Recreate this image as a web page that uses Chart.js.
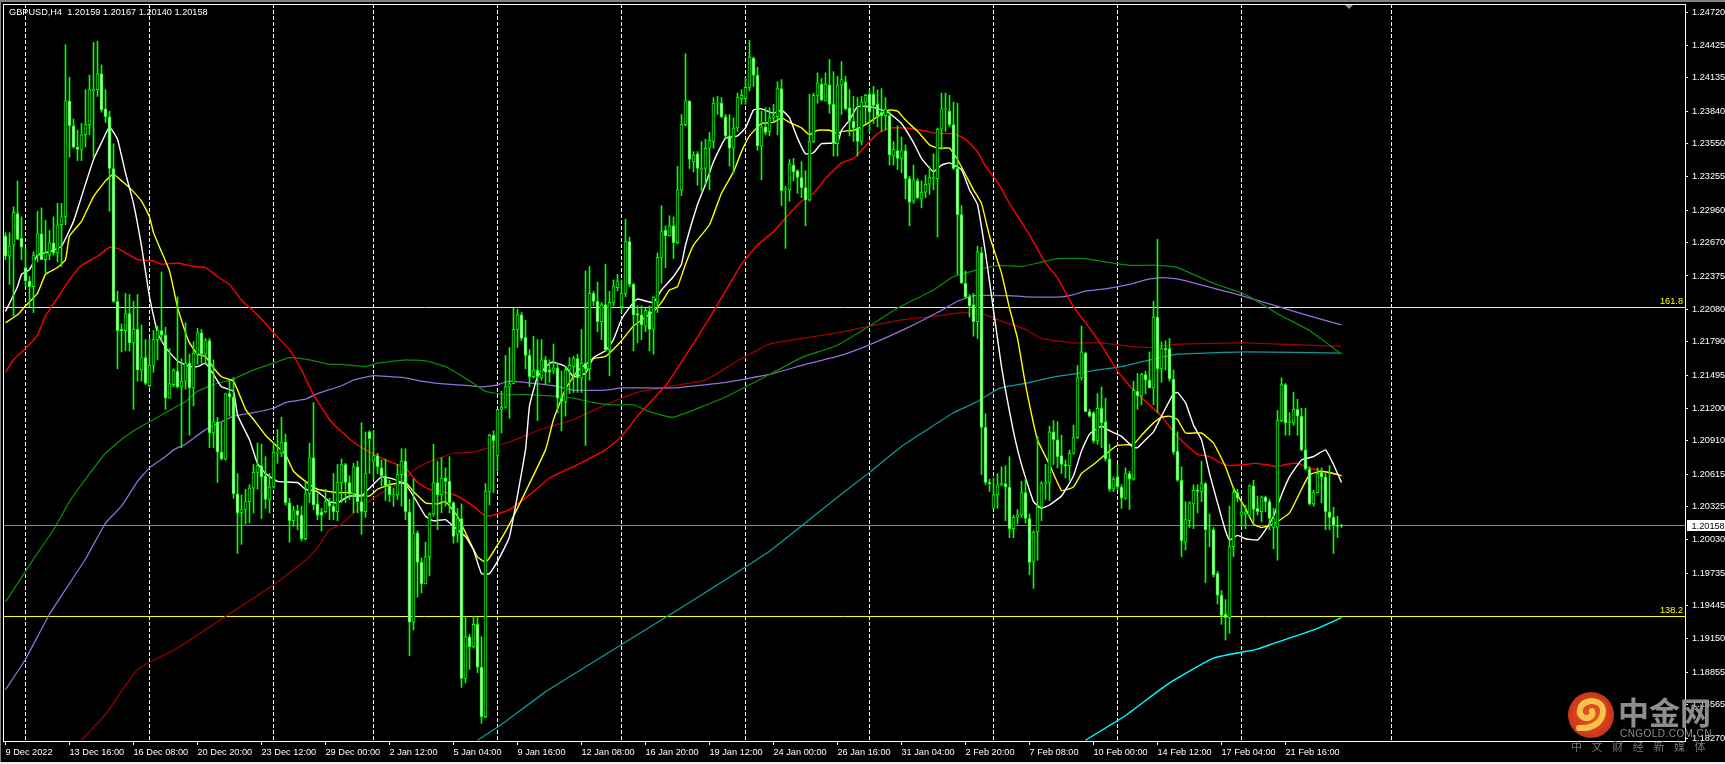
<!DOCTYPE html>
<html>
<head>
<meta charset="utf-8">
<title>GBPUSD,H4</title>
<script src="https://cdn.jsdelivr.net/npm/chart.js@4/dist/chart.umd.min.js"></script>
<style>
html, body { margin: 0; padding: 0; background: #000; overflow: hidden; }
#wrap { position: relative; width: 1725px; height: 764px; }
canvas { display: block; }
#logo { position: absolute; left: 1567px; top: 691px; }
.mark { position: absolute; white-space: nowrap; color: #8e8e8e; font-family: "Liberation Sans", sans-serif; }
#cn1 { left: 1618px; top: 693px; font: bold 31px "Noto Sans CJK SC"; line-height: 36px; }
#cn2 { left: 1620px; top: 728px; font-size: 10px; line-height: 11px; letter-spacing: 0.45px; }
#cn3 { left: 1571px; top: 740px; font: 11px "Noto Sans CJK SC"; line-height: 13px; letter-spacing: 9.6px; color: #777; }
</style>
</head>
<body>
<div id="wrap">
<canvas id="chart" width="1725" height="764"></canvas>
<svg id="logo" width="48" height="48" viewBox="0 0 48 48">
  <defs><radialGradient id="g"><stop offset="0" stop-color="#ee5a22"/><stop offset="1" stop-color="#c9341a"/></radialGradient></defs>
  <circle cx="24" cy="24" r="23" fill="url(#g)"/>
  <path d="M12 37 C24 38 36 32 36 20 C36 12 27 8 20 11 C13 13 10 22 16 26 C21 29 27 25 25 20" fill="none" stroke="#f6c24c" stroke-width="6" stroke-linecap="round"/>
</svg>
<div class="mark" id="cn1">中金网</div>
<div class="mark" id="cn2">CNGOLD.COM.CN</div>
<div class="mark" id="cn3">中文财经新媒体</div>
</div>
<script>
var caption = "GBPUSD,H4  1.20159 1.20167 1.20140 1.20158";

// H4 candles, one entry per bar
var open = [
1.2273,1.2255,1.2265,1.2293,1.2271,1.2245,1.2233,1.2228,1.2256,1.2275,
1.2252,1.2256,1.2267,1.2258,1.2283,1.2290,1.2393,1.2371,1.2352,1.2350,
1.2363,1.2372,1.2402,1.2403,1.2417,1.2386,1.2379,1.2333,1.2215,1.2190,
1.2189,1.2204,1.2178,1.2190,1.2154,1.2165,1.2140,1.2158,1.2181,1.2189,
1.2185,1.2129,1.2141,1.2153,1.2139,1.2144,1.2160,1.2138,1.2168,1.2187,
1.2168,1.2180,1.2098,1.2108,1.2081,1.2075,1.2133,1.2130,1.2044,1.2027,
1.2030,1.2037,1.2049,1.2063,1.2069,1.2060,1.2039,1.2050,1.2080,1.2080,
1.2090,1.2036,1.2020,1.2029,1.2025,1.2004,1.2044,1.2076,1.2035,1.2028,
1.2028,1.2037,1.2033,1.2028,1.2054,1.2070,1.2054,1.2044,1.2068,1.2037,
1.2028,1.2099,1.2073,1.2078,1.2067,1.2060,1.2051,1.2042,1.2043,1.2061,
1.2073,1.2028,1.1930,1.2009,1.1983,1.1964,1.1988,1.2026,1.2054,1.2043,
1.2058,1.2055,1.2036,1.2008,1.2022,1.1880,1.1917,1.1908,1.1928,1.1890,
1.1846,1.2046,1.2096,1.2078,1.2119,1.2121,1.2139,1.2142,1.2190,1.2203,
1.2183,1.2167,1.2148,1.2154,1.2147,1.2163,1.2154,1.2153,1.2156,1.2129,
1.2126,1.2154,1.2157,1.2164,1.2147,1.2160,1.2155,1.2222,1.2215,1.2197,
1.2212,1.2172,1.2214,1.2227,1.2210,1.2222,1.2268,1.2230,1.2204,1.2203,
1.2193,1.2206,1.2190,1.2214,1.2254,1.2278,1.2273,1.2282,1.2267,1.2314,
1.2372,1.2393,1.2339,1.2346,1.2332,1.2333,1.2351,1.2357,1.2391,1.2391,
1.2379,1.2362,1.2351,1.2369,1.2395,1.2395,1.2405,1.2431,1.2416,1.2353,
1.2370,1.2366,1.2378,1.2379,1.2404,1.2314,1.2314,1.2336,1.2331,1.2325,
1.2316,1.2305,1.2357,1.2398,1.2408,1.2393,1.2407,1.2390,1.2355,1.2407,
1.2410,1.2387,1.2375,1.2369,1.2357,1.2392,1.2399,1.2399,1.2390,1.2383,
1.2380,1.2380,1.2344,1.2349,1.2342,1.2349,1.2324,1.2304,1.2322,1.2306,
1.2312,1.2319,1.2324,1.2324,1.2368,1.2385,1.2384,1.2372,1.2333,1.2292,
1.2231,1.2219,1.2212,1.2197,1.2258,1.2103,1.2054,1.2031,1.2043,1.2052,
1.2053,1.2050,1.2013,1.2023,1.2025,1.2045,1.2022,1.1984,1.2010,1.2032,
1.2053,1.2054,1.2099,1.2092,1.2078,1.2070,1.2069,1.2080,1.2094,1.2147,
1.2169,1.2117,1.2116,1.2091,1.2120,1.2108,1.2075,1.2048,1.2059,1.2050,
1.2040,1.2062,1.2057,1.2135,1.2131,1.2150,1.2145,1.2138,1.2201,1.2155,
1.2173,1.2173,1.2146,1.2082,1.2056,1.2001,1.2020,1.2035,1.2047,1.2046,
1.2053,1.2011,1.2012,1.1973,1.1954,1.1937,1.1934,1.1997,1.2045,1.2025,
1.2026,1.2025,1.2051,1.2031,1.2028,1.2041,1.2037,1.2014,1.2014,1.2109,
1.2141,1.2107,1.2107,1.2119,1.2113,1.2083,1.2066,1.2035,1.2045,1.2063,
1.2059,1.2028,1.2023,1.2016,1.20159];
var close = [
1.2255,1.2264,1.2294,1.2270,1.2263,1.2233,1.2228,1.2256,1.2275,1.2252,
1.2258,1.2267,1.2258,1.2283,1.2290,1.2393,1.2371,1.2352,1.2350,1.2363,
1.2372,1.2403,1.2403,1.2417,1.2385,1.2379,1.2333,1.2215,1.2189,1.2189,
1.2204,1.2178,1.2190,1.2154,1.2165,1.2142,1.2158,1.2181,1.2189,1.2185,
1.2129,1.2142,1.2154,1.2139,1.2144,1.2160,1.2138,1.2169,1.2187,1.2168,
1.2180,1.2098,1.2108,1.2081,1.2075,1.2133,1.2130,1.2044,1.2027,1.2030,
1.2037,1.2049,1.2063,1.2069,1.2059,1.2039,1.2050,1.2081,1.2081,1.2090,
1.2036,1.2020,1.2029,1.2025,1.2004,1.2044,1.2076,1.2034,1.2025,1.2025,
1.2037,1.2033,1.2028,1.2054,1.2070,1.2054,1.2044,1.2068,1.2037,1.2028,
1.2062,1.2093,1.2078,1.2068,1.2060,1.2051,1.2043,1.2043,1.2061,1.2073,
1.2028,1.1930,1.2009,1.1983,1.1964,1.1988,1.2026,1.2054,1.2043,1.2058,
1.2055,1.2036,1.2006,1.2022,1.1880,1.1917,1.1908,1.1928,1.1890,1.1846,
1.2046,1.2096,1.2091,1.2119,1.2121,1.2139,1.2142,1.2190,1.2203,1.2182,
1.2167,1.2148,1.2154,1.2148,1.2163,1.2152,1.2152,1.2156,1.2129,1.2126,
1.2154,1.2158,1.2164,1.2147,1.2160,1.2155,1.2222,1.2215,1.2197,1.2212,
1.2172,1.2214,1.2228,1.2233,1.2222,1.2268,1.2230,1.2203,1.2203,1.2194,
1.2207,1.2190,1.2219,1.2254,1.2277,1.2273,1.2282,1.2267,1.2314,1.2372,
1.2393,1.2341,1.2345,1.2333,1.2333,1.2351,1.2358,1.2391,1.2392,1.2379,
1.2362,1.2351,1.2369,1.2396,1.2398,1.2405,1.2432,1.2416,1.2353,1.2370,
1.2365,1.2378,1.2380,1.2404,1.2313,1.2315,1.2337,1.2330,1.2325,1.2316,
1.2305,1.2357,1.2398,1.2409,1.2394,1.2408,1.2390,1.2355,1.2407,1.2412,
1.2386,1.2375,1.2369,1.2357,1.2392,1.2398,1.2383,1.2389,1.2380,1.2380,
1.2386,1.2345,1.2350,1.2342,1.2349,1.2324,1.2303,1.2323,1.2307,1.2312,
1.2319,1.2325,1.2325,1.2368,1.2386,1.2386,1.2372,1.2333,1.2292,1.2231,
1.2219,1.2211,1.2197,1.2259,1.2103,1.2054,1.2053,1.2043,1.2052,1.2053,
1.2050,1.2013,1.2023,1.2025,1.2045,1.2022,1.1983,1.2010,1.2032,1.2053,
1.2054,1.2099,1.2092,1.2077,1.2070,1.2069,1.2080,1.2094,1.2147,1.2170,
1.2117,1.2113,1.2091,1.2120,1.2107,1.2075,1.2048,1.2057,1.2050,1.2040,
1.2062,1.2057,1.2136,1.2131,1.2150,1.2145,1.2138,1.2201,1.2155,1.2173,
1.2172,1.2146,1.2081,1.2056,1.2002,1.2021,1.2036,1.2047,1.2046,1.2053,
1.2012,1.2012,1.1972,1.1954,1.1936,1.1934,1.1997,1.2045,1.2040,1.2028,
1.2028,1.2051,1.2030,1.2028,1.2041,1.2037,1.2022,1.2022,1.2109,1.2141,
1.2107,1.2108,1.2119,1.2113,1.2083,1.2066,1.2035,1.2045,1.2062,1.2059,
1.2028,1.2023,1.2016,1.2015,1.20158];
var high = [
1.2276,1.2276,1.2299,1.2322,1.2290,1.2262,1.2237,1.2259,1.2295,1.2298,
1.2287,1.2278,1.2290,1.2302,1.2302,1.2443,1.2414,1.2377,1.2367,1.2373,
1.2403,1.2416,1.2445,1.2446,1.2425,1.2403,1.2384,1.2355,1.2224,1.2195,
1.2222,1.2221,1.2215,1.2221,1.2194,1.2181,1.2182,1.2189,1.2193,1.2241,
1.2192,1.2173,1.2155,1.2219,1.2164,1.2196,1.2168,1.2179,1.2191,1.2190,
1.2182,1.2182,1.2163,1.2112,1.2107,1.2133,1.2145,1.2147,1.2062,1.2043,
1.2048,1.2052,1.2070,1.2089,1.2088,1.2077,1.2062,1.2090,1.2101,1.2112,
1.2097,1.2040,1.2033,1.2034,1.2033,1.2055,1.2089,1.2125,1.2046,1.2031,
1.2048,1.2040,1.2062,1.2070,1.2075,1.2071,1.2060,1.2071,1.2073,1.2107,
1.2099,1.2100,1.2100,1.2080,1.2074,1.2075,1.2056,1.2049,1.2070,1.2084,
1.2084,1.2039,1.2057,1.2011,1.1987,1.2001,1.2027,1.2088,1.2073,1.2076,
1.2067,1.2077,1.2037,1.2031,1.2035,1.1935,1.1919,1.1935,1.1934,1.1917,
1.2053,1.2097,1.2100,1.2119,1.2135,1.2167,1.2174,1.2209,1.2208,1.2205,
1.2198,1.2172,1.2184,1.2181,1.2181,1.2166,1.2163,1.2177,1.2160,1.2153,
1.2157,1.2165,1.2166,1.2168,1.2190,1.2242,1.2246,1.2224,1.2232,1.2214,
1.2248,1.2224,1.2234,1.2239,1.2234,1.2288,1.2272,1.2231,1.2211,1.2211,
1.2209,1.2211,1.2219,1.2258,1.2300,1.2282,1.2291,1.2290,1.2335,1.2381,
1.2435,1.2393,1.2348,1.2348,1.2357,1.2359,1.2365,1.2396,1.2397,1.2396,
1.2381,1.2381,1.2378,1.2400,1.2403,1.2414,1.2447,1.2432,1.2423,1.2384,
1.2387,1.2387,1.2390,1.2410,1.2412,1.2317,1.2341,1.2342,1.2332,1.2339,
1.2331,1.2399,1.2400,1.2418,1.2413,1.2418,1.2430,1.2419,1.2415,1.2428,
1.2415,1.2403,1.2397,1.2396,1.2397,1.2399,1.2403,1.2406,1.2403,1.2404,
1.2396,1.2384,1.2357,1.2371,1.2361,1.2354,1.2326,1.2336,1.2324,1.2322,
1.2327,1.2335,1.2346,1.2369,1.2400,1.2400,1.2398,1.2392,1.2391,1.2300,
1.2242,1.2221,1.2222,1.2264,1.2263,1.2115,1.2057,1.2058,1.2062,1.2068,
1.2069,1.2077,1.2025,1.2030,1.2055,1.2057,1.2026,1.2011,1.2095,1.2055,
1.2070,1.2104,1.2109,1.2108,1.2096,1.2074,1.2083,1.2105,1.2158,1.2193,
1.2170,1.2119,1.2117,1.2133,1.2139,1.2129,1.2088,1.2059,1.2070,1.2052,
1.2067,1.2064,1.2144,1.2151,1.2151,1.2153,1.2170,1.2215,1.2270,1.2179,
1.2180,1.2182,1.2154,1.2099,1.2068,1.2037,1.2037,1.2052,1.2052,1.2073,
1.2054,1.2026,1.2014,1.1975,1.1958,1.1950,1.2033,1.2049,1.2048,1.2036,
1.2034,1.2052,1.2056,1.2042,1.2042,1.2042,1.2039,1.2031,1.2118,1.2147,
1.2142,1.2116,1.2134,1.2128,1.2120,1.2120,1.2068,1.2047,1.2067,1.2067,
1.2062,1.2069,1.2032,1.2024,1.20167];
var low = [
1.2252,1.2230,1.2202,1.2270,1.2252,1.2228,1.2210,1.2205,1.2250,1.2252,
1.2240,1.2252,1.2256,1.2250,1.2246,1.2283,1.2343,1.2351,1.2340,1.2340,
1.2352,1.2363,1.2343,1.2397,1.2383,1.2374,1.2295,1.2214,1.2155,1.2170,
1.2171,1.2171,1.2119,1.2144,1.2144,1.2141,1.2139,1.2152,1.2163,1.2179,
1.2119,1.2129,1.2139,1.2138,1.2085,1.2137,1.2096,1.2122,1.2159,1.2160,
1.2159,1.2085,1.2085,1.2054,1.2074,1.2074,1.2113,1.2040,1.1991,1.1999,
1.2017,1.2018,1.2027,1.2048,1.2022,1.2031,1.2027,1.2049,1.2071,1.2077,
1.2034,1.2001,1.2015,1.2012,1.2002,1.2003,1.2036,1.2030,1.2021,1.2011,
1.2027,1.2021,1.2021,1.2020,1.2036,1.2036,1.2039,1.2027,1.2027,1.2008,
1.2023,1.2062,1.2057,1.2062,1.2051,1.2038,1.2037,1.2033,1.2039,1.2033,
1.2021,1.1900,1.1923,1.1952,1.1956,1.1964,1.1971,1.2024,1.2012,1.2027,
1.2033,1.2027,1.2000,1.2001,1.1872,1.1876,1.1888,1.1907,1.1885,1.1840,
1.1845,1.2034,1.2045,1.2064,1.2098,1.2120,1.2111,1.2142,1.2174,1.2180,
1.2155,1.2139,1.2147,1.2109,1.2145,1.2141,1.2143,1.2151,1.2116,1.2100,
1.2113,1.2133,1.2134,1.2134,1.2134,1.2087,1.2145,1.2211,1.2188,1.2181,
1.2171,1.2149,1.2211,1.2224,1.2205,1.2219,1.2228,1.2171,1.2178,1.2181,
1.2188,1.2171,1.2168,1.2205,1.2231,1.2245,1.2273,1.2253,1.2266,1.2309,
1.2371,1.2333,1.2330,1.2318,1.2313,1.2319,1.2314,1.2351,1.2381,1.2378,
1.2360,1.2335,1.2329,1.2366,1.2390,1.2390,1.2402,1.2406,1.2349,1.2323,
1.2363,1.2362,1.2374,1.2363,1.2300,1.2262,1.2304,1.2322,1.2311,1.2307,
1.2282,1.2304,1.2356,1.2391,1.2393,1.2393,1.2382,1.2344,1.2344,1.2381,
1.2385,1.2362,1.2357,1.2344,1.2354,1.2373,1.2365,1.2373,1.2370,1.2366,
1.2367,1.2336,1.2336,1.2332,1.2329,1.2306,1.2282,1.2302,1.2306,1.2298,
1.2307,1.2310,1.2314,1.2272,1.2350,1.2366,1.2370,1.2332,1.2239,1.2231,
1.2218,1.2201,1.2184,1.2182,1.2061,1.2052,1.2046,1.2031,1.2031,1.2051,
1.2020,1.2005,1.2005,1.2017,1.2023,1.2018,1.1972,1.1960,1.1985,1.2020,
1.2039,1.2038,1.2070,1.2067,1.2062,1.2058,1.2056,1.2079,1.2093,1.2145,
1.2117,1.2112,1.2089,1.2088,1.2085,1.2073,1.2046,1.2046,1.2048,1.2031,
1.2039,1.2030,1.2056,1.2119,1.2123,1.2133,1.2138,1.2123,1.2116,1.2143,
1.2154,1.2144,1.2079,1.2055,1.1988,1.1994,1.2014,1.2013,1.2027,1.2037,
1.1965,1.1997,1.1970,1.1946,1.1928,1.1914,1.1920,1.1988,1.2037,1.2015,
1.2013,1.2024,1.2018,1.2025,1.2019,1.2028,1.2012,1.1995,1.1985,1.2108,
1.2096,1.2096,1.2105,1.2096,1.2082,1.2065,1.2034,1.2033,1.2045,1.2036,
1.2012,1.2012,1.1991,1.2005,1.20140];

var maWhite = [[0,1.2206],[3,1.2228],[4,1.2239],[6,1.2243],[8,1.2256],[11,1.2259],[14,1.2264],[17,1.2286],[19,1.2308],[22,1.2341],[24,1.2356],[26,1.2370],[28,1.2359],[30,1.2329],[32,1.2302],[34,1.2264],[36,1.2219],[38,1.2187],[40,1.2174],[43,1.2162],[46,1.2157],[48,1.2157],[50,1.2160],[52,1.2150],[54,1.2139],[57,1.2135],[58,1.2114],[61,1.2092],[63,1.2071],[65,1.2062],[68,1.2055],[73,1.2054],[75,1.2048],[78,1.2046],[81,1.2037],[83,1.2036],[86,1.2042],[89,1.2042],[91,1.2049],[94,1.2059],[97,1.2057],[100,1.2052],[102,1.2042],[105,1.2024],[107,1.2020],[110,1.2021],[112,1.2015],[115,1.2006],[117,1.1994],[119,1.1973],[121,1.1973],[123,1.1984],[126,1.2006],[130,1.2083],[131,1.2122],[133,1.2148],[136,1.2160],[137,1.2161],[140,1.2157],[142,1.2148],[145,1.2151],[147,1.2165],[150,1.2171],[152,1.2181],[154,1.2199],[157,1.2214],[158,1.2217],[162,1.2214],[164,1.2225],[167,1.2237],[169,1.2248],[170,1.2265],[173,1.2301],[175,1.2319],[177,1.2339],[180,1.2360],[183,1.2362],[185,1.2369],[187,1.2385],[189,1.2386],[192,1.2382],[194,1.2385],[196,1.2378],[198,1.2360],[200,1.2346],[202,1.2347],[204,1.2355],[208,1.2356],[209,1.2367],[211,1.2376],[213,1.2388],[216,1.2388],[219,1.2385],[221,1.2382],[224,1.2373],[227,1.2356],[229,1.2342],[232,1.2330],[234,1.2336],[236,1.2338],[239,1.2332],[241,1.2314],[243,1.2301],[245,1.2258],[247,1.2207],[249,1.2157],[250,1.2136],[252,1.2099],[254,1.2070],[257,1.2037],[259,1.2031],[261,1.2034],[264,1.2042],[267,1.2060],[269,1.2082],[271,1.2097],[274,1.2104],[276,1.2100],[279,1.2095],[282,1.2085],[283,1.2085],[285,1.2092],[287,1.2099],[289,1.2113],[292,1.2133],[293,1.2134],[295,1.2125],[297,1.2105],[299,1.2092],[301,1.2062],[303,1.2036],[305,1.2011],[306,1.2003],[308,1.2007],[310,1.2004],[313,1.2003],[315,1.2012],[317,1.2024],[319,1.2043],[321,1.2059],[324,1.2074],[327,1.2077],[330,1.2083],[332,1.2070],[334,1.2054]];
var maYellow = [[0,1.2196],[3,1.2203],[5,1.2211],[8,1.2222],[10,1.2239],[13,1.2245],[15,1.2252],[16,1.2273],[19,1.2286],[22,1.2308],[25,1.2322],[27,1.2328],[29,1.2322],[31,1.2316],[34,1.2304],[36,1.2290],[37,1.2276],[39,1.2259],[41,1.2242],[43,1.2210],[45,1.2187],[46,1.2178],[48,1.2168],[50,1.2166],[52,1.2156],[54,1.2148],[57,1.2144],[60,1.2119],[62,1.2110],[65,1.2096],[67,1.2089],[70,1.2079],[72,1.2064],[75,1.2055],[78,1.2048],[81,1.2046],[83,1.2045],[86,1.2045],[88,1.2043],[91,1.2042],[93,1.2048],[96,1.2052],[100,1.2054],[102,1.2046],[105,1.2036],[108,1.2035],[110,1.2037],[113,1.2024],[116,1.2002],[118,1.1988],[120,1.1983],[121,1.1987],[126,1.2017],[135,1.2083],[137,1.2110],[140,1.2137],[143,1.2153],[147,1.2164],[150,1.2166],[154,1.2180],[157,1.2193],[162,1.2206],[164,1.2214],[166,1.2225],[168,1.2228],[170,1.2248],[172,1.2265],[176,1.2283],[179,1.2311],[182,1.2330],[184,1.2348],[186,1.2362],[189,1.2373],[192,1.2374],[194,1.2378],[196,1.2374],[199,1.2369],[201,1.2363],[203,1.2367],[206,1.2367],[208,1.2364],[209,1.2366],[212,1.2367],[215,1.2372],[218,1.2379],[221,1.2385],[223,1.2384],[225,1.2376],[228,1.2366],[231,1.2354],[233,1.2351],[236,1.2351],[238,1.2341],[242,1.2314],[244,1.2302],[246,1.2273],[249,1.2240],[251,1.2209],[253,1.2182],[255,1.2141],[258,1.2092],[261,1.2070],[264,1.2047],[267,1.2050],[269,1.2062],[272,1.2070],[276,1.2082],[278,1.2087],[282,1.2088],[284,1.2096],[287,1.2107],[289,1.2112],[291,1.2113],[293,1.2110],[295,1.2098],[299,1.2098],[302,1.2089],[305,1.2068],[307,1.2049],[310,1.2031],[312,1.2017],[314,1.2014],[317,1.2017],[321,1.2027],[324,1.2048],[326,1.2061],[329,1.2064],[332,1.2062],[334,1.2060]];
var maRed = [[0,1.2152],[2,1.2163],[5,1.2173],[8,1.2185],[10,1.2202],[13,1.2218],[16,1.2234],[19,1.2247],[23,1.2255],[26,1.2263],[28,1.2262],[31,1.2256],[33,1.2252],[37,1.2251],[39,1.2248],[43,1.2249],[47,1.2246],[50,1.2245],[53,1.2237],[56,1.2230],[59,1.2216],[63,1.2203],[67,1.2187],[71,1.2172],[74,1.2154],[77,1.2132],[81,1.2110],[84,1.2099],[87,1.2090],[90,1.2083],[95,1.2074],[100,1.2067],[103,1.2054],[106,1.2048],[109,1.2046],[113,1.2042],[117,1.2033],[120,1.2024],[122,1.2025],[126,1.2030],[131,1.2043],[136,1.2058],[143,1.2070],[150,1.2083],[154,1.2095],[158,1.2113],[165,1.2140],[167,1.2150],[176,1.2200],[184,1.2248],[188,1.2265],[192,1.2277],[196,1.2293],[199,1.2304],[202,1.2311],[205,1.2324],[209,1.2338],[212,1.2342],[215,1.2353],[218,1.2364],[221,1.2369],[225,1.2369],[229,1.2367],[233,1.2364],[237,1.2364],[240,1.2359],[243,1.2348],[245,1.2335],[248,1.2321],[251,1.2302],[256,1.2274],[260,1.2249],[263,1.2236],[267,1.2210],[270,1.2196],[274,1.2176],[278,1.2153],[282,1.2136],[286,1.2123],[289,1.2113],[292,1.2099],[295,1.2088],[298,1.2079],[301,1.2077],[304,1.2071],[306,1.2069],[310,1.2070],[312,1.2071],[315,1.2070],[318,1.2068],[320,1.2070],[323,1.2071],[326,1.2067],[329,1.2064],[332,1.2062],[334,1.2060]];
var maGreen = [[0,1.1948],[7,1.1986],[12,1.2012],[16,1.2037],[20,1.2057],[25,1.2080],[30,1.2095],[34,1.2104],[39,1.2114],[42,1.2120],[45,1.2126],[48,1.2135],[52,1.2141],[57,1.2146],[62,1.2154],[67,1.2160],[71,1.2165],[76,1.2163],[81,1.2159],[84,1.2159],[90,1.2157],[93,1.2160],[100,1.2163],[105,1.2162],[110,1.2157],[113,1.2151],[117,1.2142],[120,1.2135],[125,1.2132],[130,1.2132],[136,1.2131],[142,1.2129],[147,1.2125],[152,1.2123],[157,1.2123],[161,1.2117],[167,1.2112],[180,1.2130],[191,1.2150],[199,1.2165],[208,1.2176],[216,1.2193],[223,1.2209],[232,1.2225],[237,1.2237],[243,1.2243],[248,1.2247],[254,1.2246],[258,1.2249],[263,1.2253],[270,1.2253],[275,1.2250],[281,1.2247],[288,1.2247],[293,1.2245],[302,1.2231],[310,1.2221],[318,1.2204],[326,1.2189],[334,1.2168]];
var maPurple = [[0,1.1870],[5,1.1897],[11,1.1937],[20,1.1986],[25,1.2018],[29,1.2033],[33,1.2055],[36,1.2067],[40,1.2077],[42,1.2083],[45,1.2088],[50,1.2101],[54,1.2108],[57,1.2113],[62,1.2116],[67,1.2120],[70,1.2125],[75,1.2128],[78,1.2133],[84,1.2140],[87,1.2145],[92,1.2149],[96,1.2148],[100,1.2147],[104,1.2144],[108,1.2142],[116,1.2140],[119,1.2139],[122,1.2140],[126,1.2144],[132,1.2142],[137,1.2140],[142,1.2136],[150,1.2136],[154,1.2138],[167,1.2138],[180,1.2143],[191,1.2150],[200,1.2159],[208,1.2166],[213,1.2172],[221,1.2184],[227,1.2194],[233,1.2205],[238,1.2215],[242,1.2220],[251,1.2220],[255,1.2219],[264,1.2219],[267,1.2221],[270,1.2224],[275,1.2226],[281,1.2230],[285,1.2234],[289,1.2236],[293,1.2235],[310,1.2219],[324,1.2204],[334,1.2194]];
var maDarkRed = [[19,1.1825],[25,1.1848],[33,1.1888],[43,1.1907],[55,1.1935],[67,1.1963],[75,1.1985],[78,1.1996],[81,1.2012],[84,1.2017],[88,1.2030],[92,1.2040],[96,1.2049],[99,1.2054],[102,1.2065],[105,1.2071],[112,1.2080],[117,1.2081],[121,1.2085],[126,1.2090],[133,1.2100],[142,1.2110],[150,1.2123],[158,1.2134],[164,1.2138],[167,1.2140],[175,1.2145],[183,1.2162],[191,1.2177],[208,1.2187],[216,1.2193],[225,1.2199],[233,1.2202],[239,1.2205],[245,1.2203],[250,1.2196],[255,1.2190],[259,1.2182],[267,1.2178],[274,1.2178],[281,1.2175],[286,1.2174],[293,1.2177],[310,1.2178],[334,1.2175]];
var maTeal = [[118,1.1825],[124,1.1839],[135,1.1868],[149,1.1899],[169,1.1943],[191,1.1993],[208,1.2041],[216,1.2063],[224,1.2086],[230,1.2100],[237,1.2116],[243,1.2126],[248,1.2137],[250,1.2139],[255,1.2142],[261,1.2147],[268,1.2151],[273,1.2154],[279,1.2157],[285,1.2162],[293,1.2168],[310,1.2170],[334,1.2169]];
var maCyan = [[270,1.1825],[280,1.1847],[291,1.1876],[302,1.1898],[313,1.1906],[317,1.1911],[322,1.1917],[327,1.1923],[331,1.1929],[334,1.1934]];

var fib1618 = 1.220949;
var fib1382 = 1.193495;
var lastPrice = 1.20158;

var yTicks = [1.2472,1.24425,1.24135,1.2384,1.2355,1.23255,1.2296,1.2267,1.22375,1.2208,1.2179,1.21495,1.212,1.2091,1.20615,1.20325,1.2003,1.19735,1.19445,1.1915,1.18855,1.18565,1.1827];
var timeBars = [0,16,32,48,64,80,96,112,128,144,160,176,192,208,224,240,256,272,288,304,320];
var timeLabels = ["9 Dec 2022","13 Dec 16:00","16 Dec 08:00","20 Dec 20:00","23 Dec 12:00","29 Dec 00:00","2 Jan 12:00","5 Jan 04:00","9 Jan 16:00","12 Jan 08:00","16 Jan 20:00","19 Jan 12:00","24 Jan 00:00","26 Jan 16:00","31 Jan 04:00","2 Feb 20:00","7 Feb 08:00","10 Feb 00:00","14 Feb 12:00","17 Feb 04:00","21 Feb 16:00"];
var separatorBars = [5,36,67,92,123,154,185,216,247,278,309,346.5];

var xMin = -0.375, xMax = 419.875;
var uiFont = { family: "Liberation Sans", size: 9.2 };

function maLine(points, color, order, width) {
    return {
        type: 'line',
        data: points.map(function (p) { return { x: p[0], y: p[1] }; }),
        borderColor: color,
        borderWidth: width,
        pointRadius: 0,
        tension: 0.12,
        order: order
    };
}

function hLine(value, color, order) {
    return {
        type: 'line',
        data: [{ x: xMin, y: value }, { x: xMax, y: value }],
        borderColor: color,
        borderWidth: 1,
        pointRadius: 0,
        order: order
    };
}

// no label overhang, the plot area has to sit exactly inside the frame
function noPadding(axis) {
    axis.paddingLeft = 0;
    axis.paddingRight = 0;
    axis.paddingTop = 0;
    axis.paddingBottom = 0;
}

// frame, caption, fib labels, last price tag
var chromePlugin = {
    id: 'chrome',
    beforeDraw: function (chart) {
        var ctx = chart.ctx;
        ctx.save();
        ctx.fillStyle = '#000';
        ctx.fillRect(0, 0, 1725, 764);
        ctx.fillStyle = '#808080';
        ctx.fillRect(0, 0, 1725, 2);
        ctx.fillRect(0, 0, 1, 762);
        ctx.fillStyle = '#ececec';
        ctx.fillRect(0, 762, 1725, 2);
        ctx.restore();
    },
    afterDraw: function (chart) {
        var ctx = chart.ctx, a = chart.chartArea, y = chart.scales.y;
        ctx.save();
        ctx.strokeStyle = '#fff';
        ctx.lineWidth = 1;
        ctx.strokeRect(a.left - 0.5, a.top + 0.5, a.right - a.left + 1, a.bottom - a.top);
        ctx.font = '9.2px "Liberation Sans"';
        ctx.textBaseline = 'middle';
        ctx.fillStyle = '#fff';
        ctx.fillText(caption, 9, 12.5);
        ctx.textAlign = 'right';
        ctx.fillStyle = '#ffff00';
        ctx.fillText('161.8', 1683, y.getPixelForValue(fib1618) - 6);
        ctx.fillText('138.2', 1683, y.getPixelForValue(fib1382) - 6);
        var py = y.getPixelForValue(lastPrice);
        ctx.fillStyle = '#fff';
        ctx.fillRect(1687, py - 5.5, 38, 11);
        ctx.textAlign = 'left';
        ctx.fillStyle = '#000';
        ctx.fillText(lastPrice.toFixed(5), 1691.5, py + 0.5);
        // chart shift marker
        ctx.fillStyle = '#7f93a6';
        ctx.beginPath();
        ctx.moveTo(1345, 5);
        ctx.lineTo(1353, 5);
        ctx.lineTo(1349, 9);
        ctx.closePath();
        ctx.fill();
        ctx.restore();
    }
};

new Chart(document.getElementById('chart'), {
    data: {
        datasets: [
            {
                type: 'bar',
                data: open.map(function (o, i) { return { x: i, y: [o, close[i]] }; }),
                backgroundColor: open.map(function (o, i) { return close[i] < o ? '#fff' : '#000'; }),
                borderColor: '#00ff00',
                borderWidth: 1,
                borderSkipped: false,
                barThickness: 3,
                grouped: false,
                order: 1
            },
            {
                type: 'bar',
                data: high.map(function (h, i) { return { x: i, y: [low[i], h] }; }),
                backgroundColor: '#00ff00',
                borderWidth: 0,
                barThickness: 1,
                grouped: false,
                order: 2
            },
            maLine(maWhite, '#ffffff', 3, 1.4),
            maLine(maYellow, '#ffff00', 4, 1.4),
            maLine(maRed, '#ff0000', 5, 1.4),
            maLine(maGreen, '#0b8a0b', 6, 1.25),
            maLine(maPurple, '#9370db', 7, 1.25),
            maLine(maDarkRed, '#a00000', 8, 1.25),
            maLine(maTeal, '#0e9a9a', 9, 1.25),
            maLine(maCyan, '#00ffff', 10, 1.4),
            hLine(fib1618, '#ffff00', 20),
            hLine(fib1382, '#ffff00', 20),
            hLine(lastPrice, '#778899', 21)
        ]
    },
    options: {
        responsive: false,
        animation: false,
        devicePixelRatio: 1,
        layout: { padding: { left: 4, top: 4, right: 0, bottom: 0 } },
        plugins: { legend: { display: false }, tooltip: { enabled: false } },
        events: [],
        scales: {
            x: {
                type: 'linear',
                offset: false,
                min: xMin,
                max: xMax,
                afterBuildTicks: function (axis) {
                    axis.ticks = timeBars.map(function (v) { return { value: v }; });
                },
                afterFit: function (axis) { axis.height = 23; noPadding(axis); },
                border: { display: false },
                grid: { drawOnChartArea: false, offset: false, color: '#fff', tickLength: 4 },
                ticks: {
                    autoSkip: false,
                    maxRotation: 0,
                    align: 'start',
                    padding: 2,
                    color: '#fff',
                    font: uiFont,
                    callback: function (v) { return timeLabels[timeBars.indexOf(v)]; }
                }
            },
            x2: {
                type: 'linear',
                position: 'top',
                offset: false,
                min: xMin,
                max: xMax,
                afterBuildTicks: function (axis) {
                    axis.ticks = separatorBars.map(function (v) { return { value: v }; });
                },
                afterFit: function (axis) { axis.height = 0; noPadding(axis); },
                border: { display: false, dash: [4, 2] },
                grid: { color: '#fff', drawTicks: false, tickLength: 0, lineWidth: 1 },
                ticks: { display: false }
            },
            y: {
                position: 'right',
                min: 1.182434,
                max: 1.247914,
                afterBuildTicks: function (axis) {
                    axis.ticks = yTicks.map(function (v) { return { value: v }; });
                },
                afterFit: function (axis) { axis.width = 40; noPadding(axis); },
                border: { display: false },
                grid: { drawOnChartArea: false, color: '#fff', tickLength: 3 },
                ticks: {
                    autoSkip: false,
                    padding: 4,
                    color: '#fff',
                    font: uiFont,
                    callback: function (v) { return v.toFixed(5); }
                }
            }
        }
    },
    plugins: [chromePlugin]
});
</script>
</body>
</html>
